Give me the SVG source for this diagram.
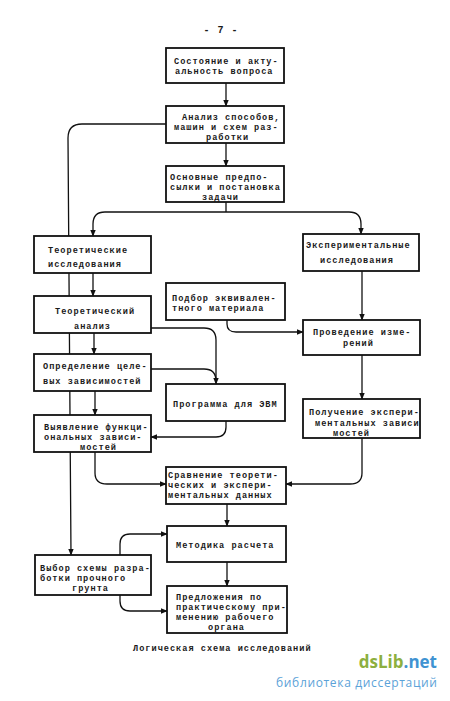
<svg xmlns="http://www.w3.org/2000/svg" width="450" height="701" viewBox="0 0 450 701">
<defs>
<style>
.box{fill:#fff;stroke:#111;stroke-width:1.8}
.t{font-family:"Liberation Mono","DejaVu Sans Mono",monospace;font-size:8.6px;letter-spacing:1px;font-weight:bold;fill:#1a1a1a}
.c{fill:none;stroke:#111;stroke-width:1.3}
</style>
<marker id="a" viewBox="0 0 10 10" refX="9" refY="5" markerWidth="7" markerHeight="7" markerUnits="userSpaceOnUse" orient="auto">
<path d="M0,1 L10,5 L0,9 z" fill="#111"/>
</marker>
</defs>
<rect width="450" height="701" fill="#fff"/>
<text class="t" x="221" y="33" text-anchor="middle" style="font-size:10px">- 7 -</text>

<g id="connectors">
<path class="c" d="M226,83 V106" marker-end="url(#a)"/>
<path class="c" d="M226,143 V166" marker-end="url(#a)"/>
<path class="c" d="M166,124 H82 Q68,124 68,138 L71,555" marker-end="url(#a)"/>
<path class="c" d="M226,202 V212 M226,212 H105 Q93,212 93,224 V236" marker-end="url(#a)"/>
<path class="c" d="M226,212 H349 Q361,212 361,224 V234" marker-end="url(#a)"/>
<path class="c" d="M93,273 V296" marker-end="url(#a)"/>
<path class="c" d="M94,333 V354" marker-end="url(#a)"/>
<path class="c" d="M95,391 V415" marker-end="url(#a)"/>
<path class="c" d="M362,271 V320" marker-end="url(#a)"/>
<path class="c" d="M362,355 V399" marker-end="url(#a)"/>
<path class="c" d="M227,320 V324 Q227,332 236,332 H303" marker-end="url(#a)"/>
<path class="c" d="M151,328 H204 Q216,328 216,340 V384" marker-end="url(#a)"/>
<path class="c" d="M151,369 H204 Q216,369 216,381"/>
<path class="c" d="M226,421 V427 Q226,437 216,437 H151" marker-end="url(#a)"/>
<path class="c" d="M95,452 V473 Q95,484 107,484 H166" marker-end="url(#a)"/>
<path class="c" d="M362,438 V473 Q362,484 350,484 H286" marker-end="url(#a)"/>
<path class="c" d="M227,504 V526" marker-end="url(#a)"/>
<path class="c" d="M227,562 V586" marker-end="url(#a)"/>
<path class="c" d="M120,555 V544 Q120,534 130,534 H167" marker-end="url(#a)"/>
<path class="c" d="M120,595 V601 Q120,611 130,611 H167" marker-end="url(#a)"/>
</g>

<g id="n1"><rect class="box" x="166" y="48" width="118" height="35"/>
<text class="t" x="174" y="64">Состояние и акту-</text><text class="t" x="175" y="74">альность вопроса</text></g>

<g id="n2"><rect class="box" x="166" y="106" width="118" height="37"/>
<text class="t" x="182" y="120">Анализ способов,</text><text class="t" x="174" y="130">машин и схем раз-</text><text class="t" x="206" y="140">работки</text></g>

<g id="n3"><rect class="box" x="166" y="166" width="118" height="36"/>
<text class="t" x="170" y="180">Основные предпо-</text><text class="t" x="170" y="190">сылки и постановка</text><text class="t" x="202" y="200">задачи</text></g>

<g id="n4"><rect class="box" x="34" y="236" width="117" height="37"/>
<text class="t" x="48" y="253">Теоретические</text><text class="t" x="48" y="267">исследования</text></g>

<g id="n5"><rect class="box" x="303" y="234" width="116" height="37"/>
<text class="t" x="306" y="248">Экспериментальные</text><text class="t" x="320" y="263">исследования</text></g>

<g id="n6"><rect class="box" x="166" y="283" width="119" height="37"/>
<text class="t" x="172" y="301">Подбор эквивален-</text><text class="t" x="172" y="311">тного материала</text></g>

<g id="n7"><rect class="box" x="34" y="296" width="117" height="37"/>
<text class="t" x="55" y="314">Теоретический</text><text class="t" x="74" y="329">анализ</text></g>

<g id="n8"><rect class="box" x="303" y="320" width="117" height="35"/>
<text class="t" x="313" y="335">Проведение изме-</text><text class="t" x="343" y="346">рений</text></g>

<g id="n9"><rect class="box" x="34" y="354" width="117" height="37"/>
<text class="t" x="43" y="369">Определение целе-</text><text class="t" x="43" y="384">вых зависимостей</text></g>

<g id="n10"><rect class="box" x="166" y="384" width="119" height="37"/>
<text class="t" x="173" y="407">Программа для ЭВМ</text></g>

<g id="n11"><rect class="box" x="303" y="399" width="117" height="39"/>
<text class="t" x="309" y="415">Получение экспери-</text><text class="t" x="315" y="426">ментальных зависи</text><text class="t" x="333" y="436">мостей</text></g>

<g id="n12"><rect class="box" x="34" y="415" width="117" height="37"/>
<text class="t" x="44" y="430">Выявление функци-</text><text class="t" x="44" y="440">ональных зависи-</text><text class="t" x="80" y="450">мостей</text></g>

<g id="n13"><rect class="box" x="166" y="467" width="120" height="37"/>
<text class="t" x="168" y="478">Сравнение теорети-</text><text class="t" x="168" y="488">ческих и экспери-</text><text class="t" x="168" y="498">ментальных данных</text></g>

<g id="n14"><rect class="box" x="167" y="526" width="119" height="36"/>
<text class="t" x="176" y="548">Методика расчета</text></g>

<g id="n15"><rect class="box" x="35" y="555" width="116" height="40"/>
<text class="t" x="40" y="571">Выбор схемы разра-</text><text class="t" x="40" y="581">ботки прочного</text><text class="t" x="72" y="591">грунта</text></g>

<g id="n16"><rect class="box" x="167" y="586" width="120" height="47"/>
<text class="t" x="176" y="600">Предложения по</text><text class="t" x="176" y="610">практическому при-</text><text class="t" x="176" y="620">менению рабочего</text><text class="t" x="208" y="630">органа</text></g>

<text class="t" x="133" y="651">Логическая схема исследований</text>

<g id="watermark" font-family="'Open Sans','DejaVu Sans',sans-serif">
<text x="437" y="668" text-anchor="end" font-size="17" font-weight="bold"><tspan fill="#8daf3f">dsLib</tspan><tspan fill="#3f93d2">.net</tspan></text>
<text x="437" y="687" text-anchor="end" font-size="12" fill="#5ba2d8" textLength="161">библиотека диссертаций</text>
</g>
</svg>
